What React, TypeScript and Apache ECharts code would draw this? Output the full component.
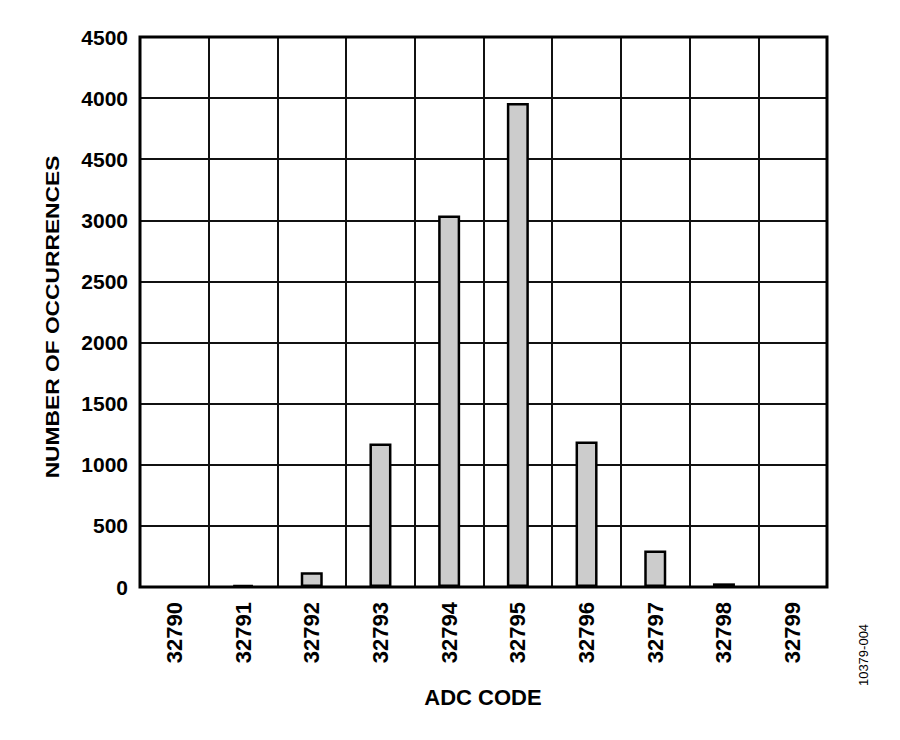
import React, { useEffect, useRef } from "react";
import * as echarts from "echarts";

const categories = ["32790", "32791", "32792", "32793", "32794", "32795", "32796", "32797", "32798", "32799"];
const occurrences = [0, 18, 120, 1175, 3040, 3960, 1190, 298, 30, 0];
const yTickLabels = ["0", "500", "1000", "1500", "2000", "2500", "3000", "4500", "4000", "4500"];
const yAxisTitle = "NUMBER OF OCCURRENCES";
const xAxisTitle = "ADC CODE";
const figureId = "10379-004";

const FONT = '"Liberation Sans", Arial, Helvetica, sans-serif';

export default function App() {
  const ref = useRef<HTMLDivElement>(null);
  useEffect(() => {
    if (!ref.current) return;
    const chart = echarts.init(ref.current, undefined, { renderer: "svg" });
    chart.setOption({
      animation: false,
      backgroundColor: "#ffffff",
      grid: {
        left: 140,
        right: 73,
        top: 37,
        bottom: 153,
        show: true,
        borderColor: "#000",
        borderWidth: 3,
        backgroundColor: "transparent",
        z: 3,
      },
      xAxis: {
        type: "category",
        data: categories,
        boundaryGap: true,
        axisLine: { show: false },
        axisTick: { show: false },
        splitLine: { show: true, interval: 0, lineStyle: { color: "#111", width: 2 } },
        axisLabel: {
          interval: 0,
          rotate: 90,
          margin: 15,
          color: "#000",
          fontFamily: FONT,
          fontWeight: "bold",
          fontSize: 22,
        },
      },
      yAxis: {
        type: "value",
        min: 0,
        max: 4500,
        interval: 500,
        axisLine: { show: false },
        axisTick: { show: false },
        splitLine: { show: true, lineStyle: { color: "#111", width: 2 } },
        axisLabel: {
          margin: 12,
          color: "#000",
          fontFamily: FONT,
          fontWeight: "bold",
          fontSize: 21,
          formatter: (v: number) => yTickLabels[Math.round(v / 500)] ?? String(v),
        },
      },
      series: [
        {
          type: "bar",
          data: occurrences.map((v) => (v === 0 ? "-" : v)),
          barWidth: 22,
          itemStyle: { color: "#cccccc", borderColor: "#000", borderWidth: 2.5 },
          z: 4,
        },
      ],
      graphic: [
        {
          type: "text",
          x: 52,
          y: 317,
          rotation: Math.PI / 2,
          scaleX: 1.2,
          style: {
            text: yAxisTitle,
            fill: "#000",
            font: `bold 19px ${FONT}`,
            align: "center",
            verticalAlign: "middle",
          },
        },
        {
          type: "text",
          x: 483,
          y: 697,
          style: {
            text: xAxisTitle,
            fill: "#000",
            font: `bold 22px ${FONT}`,
            align: "center",
            verticalAlign: "middle",
          },
        },
        {
          type: "text",
          x: 863,
          y: 655,
          rotation: Math.PI / 2,
          style: {
            text: figureId,
            fill: "#000",
            font: `13px ${FONT}`,
            align: "center",
            verticalAlign: "middle",
          },
        },
      ],
    });
    return () => chart.dispose();
  }, []);
  return (
    <div
      ref={ref}
      style={{ position: "absolute", left: 0, top: 0, width: 900, height: 740 }}
    />
  );
}
